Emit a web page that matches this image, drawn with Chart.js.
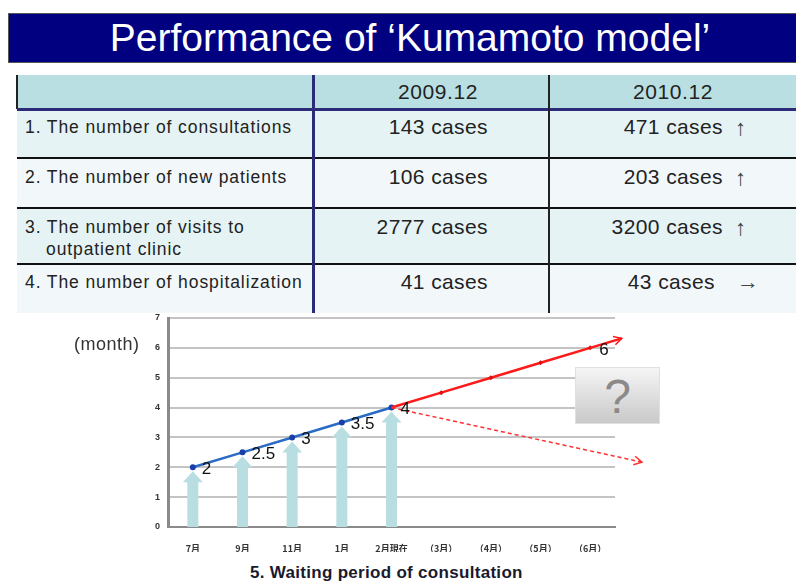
<!DOCTYPE html>
<html>
<head>
<meta charset="utf-8">
<script src="https://cdn.jsdelivr.net/npm/chart.js"></script>
<style>
  body{margin:0;width:796px;height:581px;background:#fff;position:relative;overflow:hidden;font-family:'Liberation Sans',Arial,sans-serif;}
  .abs{position:absolute;}
  .lbl{position:absolute;left:25px;font-size:17.5px;letter-spacing:0.9px;color:#222;line-height:20px;white-space:nowrap;}
  .val{position:absolute;font-size:21px;letter-spacing:0.4px;color:#222;line-height:24px;white-space:nowrap;text-align:right;}
  .hdr{position:absolute;font-size:21px;letter-spacing:0.6px;color:#222;line-height:24px;white-space:nowrap;text-align:center;width:200px;}
  .arr{position:absolute;font-size:22px;color:#444;line-height:24px;}
</style>
</head>
<body>
<!-- title banner -->
<div class="abs" style="left:8px;top:13px;width:788px;height:50px;background:#000080;border:1px solid #555;border-right:none;box-sizing:border-box;"></div>
<div class="abs" style="left:8px;top:13px;width:804px;height:50px;line-height:50px;text-align:center;color:#fff;font-size:39px;white-space:nowrap;">Performance of ‘Kumamoto model’</div>

<!-- table -->
<div class="abs" style="left:17px;top:75px;width:779px;height:34px;background:#b9dfe3;"></div>
<div class="abs" style="left:16px;top:75px;width:2px;height:34px;background:#222;"></div>
<div class="abs" style="left:17px;top:111px;width:779px;height:46px;background:#e5f3f5;"></div>
<div class="abs" style="left:17px;top:159px;width:779px;height:48px;background:#f2f8fa;"></div>
<div class="abs" style="left:17px;top:209px;width:779px;height:54px;background:#e5f3f5;"></div>
<div class="abs" style="left:17px;top:265px;width:779px;height:48px;background:#f2f8fa;"></div>
<div class="abs" style="left:17px;top:108px;width:779px;height:3px;background:#2b2b78;"></div>
<div class="abs" style="left:17px;top:157px;width:779px;height:2px;background:#111;"></div>
<div class="abs" style="left:17px;top:207px;width:779px;height:2px;background:#111;"></div>
<div class="abs" style="left:17px;top:263px;width:779px;height:2px;background:#111;"></div>
<div class="abs" style="left:312px;top:75px;width:3px;height:238px;background:#2b2b78;"></div>
<div class="abs" style="left:548px;top:75px;width:2px;height:238px;background:#222;"></div>

<div class="hdr" style="left:338px;top:80px;">2009.12</div>
<div class="hdr" style="left:573px;top:80px;">2010.12</div>

<div class="lbl" style="top:117px;">1. The number of consultations</div>
<div class="lbl" style="top:167px;">2. The number of new patients</div>
<div class="lbl" style="top:217px;">3. The number of visits to</div>
<div class="lbl" style="top:239px;left:46px;">outpatient clinic</div>
<div class="lbl" style="top:272px;">4. The number of hospitalization</div>

<div class="val" style="right:308px;top:115px;">143 cases</div>
<div class="val" style="right:308px;top:165px;">106 cases</div>
<div class="val" style="right:308px;top:215px;">2777 cases</div>
<div class="val" style="right:308px;top:270px;">41 cases</div>

<div class="val" style="right:73px;top:115px;">471 cases</div>
<div class="val" style="right:73px;top:165px;">203 cases</div>
<div class="val" style="right:73px;top:215px;">3200 cases</div>
<div class="val" style="right:81px;top:270px;">43 cases</div>
<div class="arr" style="left:735px;top:116px;">↑</div>
<div class="arr" style="left:735px;top:166px;">↑</div>
<div class="arr" style="left:735px;top:216px;">↑</div>
<div class="arr" style="left:737px;top:270px;">→</div>

<!-- chart -->
<canvas id="c" width="796" height="260" style="position:absolute;left:0;top:300px;width:796px;height:260px;"></canvas>

<div class="abs" style="left:74px;top:333px;font-size:18px;letter-spacing:0.5px;color:#333;line-height:22px;">(month)</div>
<div class="abs" style="left:575px;top:367px;width:85px;height:57px;background:linear-gradient(#f5f5f5,#c9c9c9);border:1px solid #e0e0e0;box-sizing:border-box;text-align:center;line-height:57px;font-size:48px;color:#8a8a8a;">?</div>
<div class="abs" style="left:250px;top:562px;font-size:17px;letter-spacing:0.3px;font-weight:bold;color:#1a1a2e;line-height:22px;white-space:nowrap;">5. Waiting period of consultation</div>

<script>
const categories = ['7月','9月','11月','1月','2月現在','（3月）','（4月）','（5月）','（6月）'];
const actualWait = [2, 2.5, 3, 3.5, 4, null, null, null, null];
const projectedUp = [null, null, null, null, 4, 4.5, 5, 5.5, 6];
const projectedDown = [null, null, null, null, 4, null, null, null, 2.55];
const yTicks = [0, 1, 2, 3, 4, 5, 6, 7];

const paleArrows = {
  id: 'paleArrows',
  beforeDatasetsDraw(chart) {
    const {ctx, scales: {x, y}} = chart;
    ctx.save();
    ctx.fillStyle = '#b9dee2';
    actualWait.forEach((v, i) => {
      if (v == null) return;
      const cx = x.getPixelForValue(i);
      const tip = y.getPixelForValue(v) + 4;
      const base = y.getPixelForValue(0);
      const hh = 11, hw = 10, sw = 5.5;
      ctx.beginPath();
      ctx.moveTo(cx, tip);
      ctx.lineTo(cx + hw, tip + hh);
      ctx.lineTo(cx + sw, tip + hh);
      ctx.lineTo(cx + sw, base);
      ctx.lineTo(cx - sw, base);
      ctx.lineTo(cx - sw, tip + hh);
      ctx.lineTo(cx - hw, tip + hh);
      ctx.closePath();
      ctx.fill();
    });
    ctx.restore();
  }
};

const trendArrows = {
  id: 'trendArrows',
  afterDatasetsDraw(chart) {
    const ctx = chart.ctx;
    chart.data.datasets.forEach((ds, di) => {
      if (!ds.arrowExt) return;
      const pts = chart.getDatasetMeta(di).data.filter((p, i) => ds.data[i] != null);
      if (pts.length < 2) return;
      const p0 = pts[pts.length - 2], p1 = pts[pts.length - 1];
      const dx = p1.x - p0.x, dy = p1.y - p0.y, L = Math.hypot(dx, dy);
      const ux = dx / L, uy = dy / L;
      const ex = p1.x + ux * ds.arrowExt, ey = p1.y + uy * ds.arrowExt;
      ctx.save();
      ctx.strokeStyle = ds.borderColor;
      ctx.lineWidth = ds.borderWidth;
      ctx.setLineDash(ds.borderDash || []);
      ctx.beginPath(); ctx.moveTo(p1.x, p1.y); ctx.lineTo(ex, ey); ctx.stroke();
      ctx.setLineDash([]);
      ctx.lineWidth = 1.5;
      const a = Math.atan2(uy, ux), s = 9, w = 0.5;
      ctx.beginPath();
      ctx.moveTo(ex - s * Math.cos(a - w), ey - s * Math.sin(a - w));
      ctx.lineTo(ex, ey);
      ctx.lineTo(ex - s * Math.cos(a + w), ey - s * Math.sin(a + w));
      ctx.stroke();
      ctx.restore();
    });
  }
};

const valueLabels = {
  id: 'valueLabels',
  afterDatasetsDraw(chart) {
    const ctx = chart.ctx;
    ctx.save();
    ctx.font = '17px "Liberation Sans", Arial, sans-serif';
    ctx.fillStyle = '#111';
    ctx.textBaseline = 'middle';
    ctx.textAlign = 'left';
    chart.data.datasets.forEach((ds, di) => {
      if (!ds.labelIdx) return;
      const meta = chart.getDatasetMeta(di);
      ds.labelIdx.forEach(i => {
        const p = meta.data[i];
        ctx.fillText(String(ds.data[i]), p.x + 9, p.y + 2);
      });
    });
    ctx.restore();
  }
};

new Chart(document.getElementById('c'), {
  type: 'line',
  data: {
    labels: categories,
    datasets: [
      {
        label: 'projected down',
        data: projectedDown,
        borderColor: '#ff3030',
        borderWidth: 1.5,
        borderDash: [4, 3],
        pointRadius: 0,
        spanGaps: true,
        arrowExt: 53
      },
      {
        label: 'projected up',
        data: projectedUp,
        borderColor: '#ff1a1a',
        borderWidth: 2.5,
        pointRadius: [0, 0, 0, 0, 0, 2.5, 2.5, 2.5, 2.5],
        pointStyle: 'rectRot',
        pointBackgroundColor: '#e01010',
        pointBorderWidth: 0,
        arrowExt: 33,
        labelIdx: [8]
      },
      {
        label: 'waiting period',
        data: actualWait,
        borderColor: '#2a6cc4',
        borderWidth: 2.5,
        pointRadius: 3,
        pointBackgroundColor: '#1a3fa8',
        pointBorderWidth: 0,
        labelIdx: [0, 1, 2, 3, 4]
      }
    ]
  },
  options: {
    responsive: false,
    animation: false,
    layout: {padding: {left: 140, right: 181, top: 18, bottom: 8}},
    plugins: {legend: {display: false}, tooltip: {enabled: false}},
    scales: {
      x: {
        offset: true,
        grid: {display: false},
        border: {color: '#8a8a8a', width: 2},
        ticks: {
          autoSkip: false, maxRotation: 0, padding: 8, color: '#333',
          font: {size: 9, weight: 'bold', family: '"Noto Sans CJK JP", "Liberation Sans", sans-serif'}
        },
        afterFit(s) { s.height = 25; }
      },
      y: {
        min: 0, max: 7,
        afterBuildTicks(s) { s.ticks = yTicks.map(v => ({value: v})); },
        grid: {color: '#c4c4c4', lineWidth: 2, drawTicks: false},
        border: {color: '#8a8a8a', width: 3},
        ticks: {
          padding: 8, color: '#333',
          font: {size: 9, weight: 'bold', family: '"Liberation Sans", Arial, sans-serif'}
        },
        afterFit(s) { s.width = 28; }
      }
    }
  },
  plugins: [paleArrows, trendArrows, valueLabels]
});
</script>
</body>
</html>
